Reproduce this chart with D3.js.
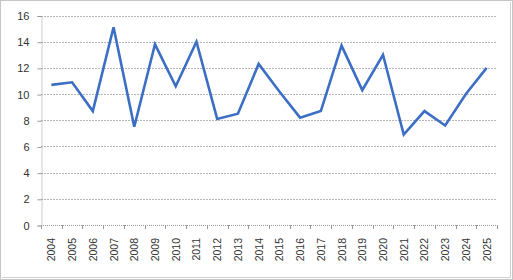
<!DOCTYPE html>
<meta charset="utf-8">
<style>
  html, body { margin: 0; padding: 0; background: #fff; }
  text { font-family: 'Liberation Sans', Arial, sans-serif; font-size: 10.5px; fill: #333; }
</style>
<script src="https://d3js.org/d3.v7.min.js"></script>
<div id="chart"></div>
<script>
// data
var years = ["2004","2005","2006","2007","2008","2009","2010","2011","2012","2013","2014",
             "2015","2016","2017","2018","2019","2020","2021","2022","2023","2024","2025"];
var values = [10.7, 10.9, 8.7, 15.1, 7.5, 13.8, 10.6, 14.0, 8.1, 8.5, 12.3,
              10.2, 8.2, 8.7, 13.7, 10.3, 13.0, 6.9, 8.7, 7.6, 10.0, 12.0];
var yTicks = [0, 2, 4, 6, 8, 10, 12, 14, 16];

var W = 513, H = 280;
var plot = {left: 41, right: 497, top: 15.5, bottom: 225};

var svg = d3.select("#chart").append("svg")
    .attr("width", W).attr("height", H);

// chart frame
svg.append("rect")
    .attr("x", 0.5).attr("y", 0.5).attr("width", W - 1).attr("height", H - 1)
    .attr("fill", "#fff").attr("stroke", "#8c8c8c").attr("stroke-dasharray", "1,1");
svg.append("path")
    .attr("d", "M510.5,2 V277.5 H2")
    .attr("fill", "none").attr("stroke", "#d0d0d0");

var x = d3.scaleBand().domain(years).range([plot.left, plot.right]);
var y = d3.scaleLinear().domain([0, 16]).range([plot.bottom, plot.top]);

// gridlines
svg.append("g").selectAll("line")
  .data(yTicks.filter(function(d){ return d > 0; }))
  .enter().append("line")
    .attr("x1", plot.left).attr("x2", plot.right)
    .attr("y1", function(d){ return Math.round(y(d)) + 0.5; })
    .attr("y2", function(d){ return Math.round(y(d)) + 0.5; })
    .attr("stroke", "#b8b8b8").attr("stroke-dasharray", "2,1");

// y axis
var yAxis = svg.append("g")
    .attr("transform", "translate(" + (plot.left + 0.5) + ",0.5)")
    .call(d3.axisLeft(y).tickValues(yTicks).tickSize(4).tickPadding(8));
yAxis.select(".domain").attr("stroke", "#999").attr("stroke-dasharray", "1,1");
yAxis.selectAll(".tick line").attr("stroke", "#999");
yAxis.selectAll("text").style("font-size", "11px").attr("fill", "#333");

// x axis line with ticks between categories
var xg = svg.append("g");
xg.append("line")
    .attr("x1", plot.left).attr("x2", plot.right)
    .attr("y1", plot.bottom + 0.5).attr("y2", plot.bottom + 0.5)
    .attr("stroke", "#999").attr("stroke-dasharray", "1,1");
xg.selectAll(".tk")
  .data(years.concat(["end"]))
  .enter().append("line")
    .attr("x1", function(d, i){ return Math.round(plot.left + i * x.step()) + 0.5; })
    .attr("x2", function(d, i){ return Math.round(plot.left + i * x.step()) + 0.5; })
    .attr("y1", plot.bottom).attr("y2", plot.bottom + 4)
    .attr("stroke", "#999");
xg.selectAll("text")
  .data(years)
  .enter().append("text")
    .attr("transform", function(d){
      return "translate(" + (x(d) + x.bandwidth() / 2 + 4) + "," + (plot.bottom + 13) + ") rotate(-90)";
    })
    .attr("text-anchor", "end")
    .text(function(d){ return d; });

// the series
var line = d3.line()
    .x(function(d, i){ return x(years[i]) + x.bandwidth() / 2; })
    .y(function(d){ return y(d); });

svg.append("path")
    .datum(values)
    .attr("d", line)
    .attr("fill", "none")
    .attr("stroke", "#3c6fc4")
    .attr("stroke-width", 2.6)
    .attr("stroke-linejoin", "miter");
</script>
